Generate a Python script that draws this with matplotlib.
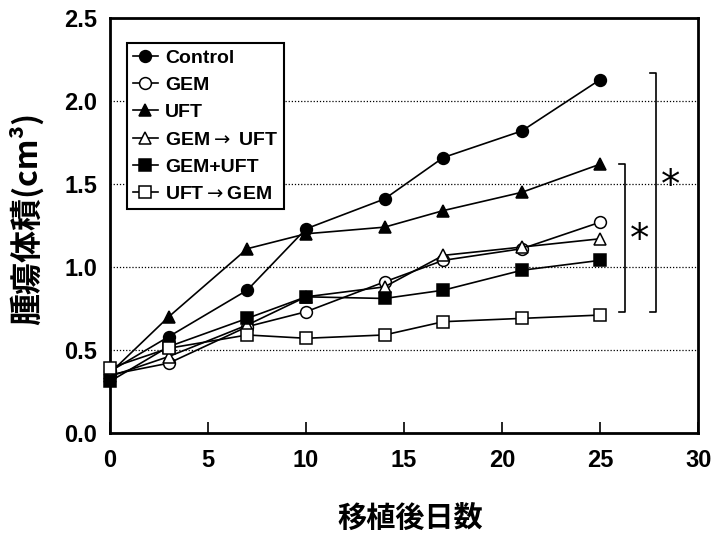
import matplotlib
matplotlib.use("Agg")
import matplotlib.pyplot as plt

plt.rcParams["mathtext.fontset"] = "dejavusans"

days = [0, 3, 7, 10, 14, 17, 21, 25]
control = [0.37, 0.58, 0.86, 1.23, 1.41, 1.66, 1.82, 2.13]
gem = [0.35, 0.42, 0.64, 0.73, 0.91, 1.04, 1.11, 1.27]
uft = [0.36, 0.70, 1.11, 1.20, 1.24, 1.34, 1.45, 1.62]
gem_uft_seq = [0.34, 0.46, 0.65, 0.82, 0.88, 1.07, 1.12, 1.17]
gem_plus_uft = [0.31, 0.52, 0.69, 0.82, 0.81, 0.86, 0.98, 1.04]
uft_gem_seq = [0.39, 0.51, 0.59, 0.57, 0.59, 0.67, 0.69, 0.71]

labels = ["Control", "GEM", "UFT", "GEM$\\rightarrow$ UFT", "GEM+UFT", "UFT$\\rightarrow$GEM"]
series = [control, gem, uft, gem_uft_seq, gem_plus_uft, uft_gem_seq]
markers = ["o", "o", "^", "^", "s", "s"]
fills = ["black", "white", "black", "white", "black", "white"]

latin = ["Liberation Sans", "DejaVu Sans"]
cjk = ["Noto Sans CJK JP", "Liberation Sans", "DejaVu Sans"]

fig = plt.figure(figsize=(7.14, 5.35), dpi=100)
ax = fig.add_axes([0.154, 0.191, 0.824, 0.775])

for vals, lab, m, fc in zip(series, labels, markers, fills):
    ax.plot(days, vals, color="black", lw=1.2, marker=m, markersize=8.5,
            markerfacecolor=fc, markeredgecolor="black", markeredgewidth=1.1,
            label=lab, clip_on=False, zorder=3)

ax.set_xlim(0, 30)
ax.set_ylim(0, 2.5)
ax.set_xticks([0, 5, 10, 15, 20, 25, 30])
ax.set_yticks([0.0, 0.5, 1.0, 1.5, 2.0, 2.5])
ax.set_yticklabels(["0.0", "0.5", "1.0", "1.5", "2.0", "2.5"])
for g in [0.5, 1.0, 1.5, 2.0]:
    ax.axhline(g, color="black", lw=0.9, ls=(0, (1, 1.5)), zorder=1)

for s in ax.spines.values():
    s.set_linewidth(2)
ax.tick_params(axis="x", direction="in", length=8, width=1.2, pad=12)
ax.tick_params(axis="y", length=0, pad=9)
for t in ax.get_xticklabels() + ax.get_yticklabels():
    t.set_fontfamily(latin)
    t.set_fontweight("bold")
    t.set_fontsize(17)

ax.set_xlabel("移植後日数", family=cjk, fontweight="bold", fontsize=21)
ax.set_ylabel("腫瘍体積(cm³)", family=cjk, fontweight="bold", fontsize=23)
ax.xaxis.label.set_va("center")
ax.yaxis.label.set_va("center")
ax.xaxis.set_label_coords(0.51, -0.205)
ax.yaxis.set_label_coords(-0.141, 0.517)

# significance brackets
ax.plot([25.97, 26.27, 26.27, 25.97], [1.62, 1.62, 0.73, 0.73], color="black", lw=1.2, clip_on=False)
ax.plot([27.55, 27.83, 27.83, 27.55], [2.17, 2.17, 0.73, 0.73], color="black", lw=1.2, clip_on=False)
ax.text(26.98, 1.16, "*", fontsize=28, ha="center", va="center", family="DejaVu Sans")
ax.text(28.57, 1.49, "*", fontsize=28, ha="center", va="center", family="DejaVu Sans")

leg = ax.legend(loc="upper left", bbox_to_anchor=(0.029, 0.94), frameon=True, fancybox=False,
                edgecolor="black", handlelength=1.3, handletextpad=0.35, labelspacing=0.5,
                borderpad=0.3, borderaxespad=0,
                prop={"family": latin, "weight": "bold", "size": 14})
leg.get_frame().set_linewidth(1.5)
leg.get_frame().set_alpha(1)

fig.savefig("out.png", dpi=100)
